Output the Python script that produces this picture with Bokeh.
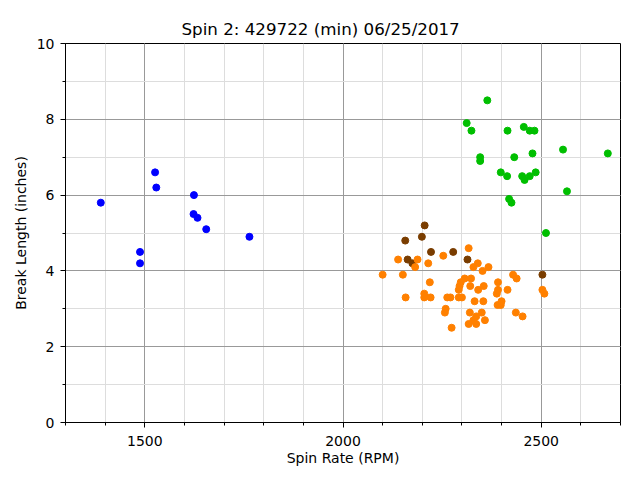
from bokeh.plotting import figure
from bokeh.models import Range1d, SingleIntervalTicker, Title
from bokeh.embed import file_html
from bokeh.resources import INLINE

title_text = "Spin 2: 429722 (min) 06/25/2017"
x_label = "Spin Rate (RPM)"
y_label = "Break Length (inches)"

blue_x = [1389, 1526, 1529, 1624, 1623, 1633, 1655, 1764, 1488, 1488]
blue_y = [5.8, 6.6, 6.2, 6.0, 5.5, 5.4, 5.1, 4.9, 4.5, 4.2]

brown_x = [2206, 2199, 2157, 2222, 2278, 2163, 2175, 2314, 2503]
brown_y = [5.2, 4.9, 4.8, 4.5, 4.5, 4.3, 4.2, 4.3, 3.9]

green_x = [2364, 2312, 2324, 2415, 2456, 2471, 2483, 2555, 2668, 2478, 2346, 2346,
           2432, 2398, 2414, 2452, 2458, 2471, 2486, 2565, 2419, 2425, 2512]
green_y = [8.5, 7.9, 7.7, 7.7, 7.8, 7.7, 7.7, 7.2, 7.1, 7.1, 7.0, 6.9,
           7.0, 6.6, 6.5, 6.5, 6.4, 6.5, 6.6, 6.1, 5.9, 5.8, 5.0]

orange_x = [2100, 2151, 2139, 2188, 2182, 2215, 2253, 2317, 2340, 2329, 2367, 2352,
            2429, 2438, 2307, 2323, 2219, 2297, 2294, 2292, 2321, 2355, 2391, 2391,
            2388, 2415, 2341, 2503, 2508, 2205, 2205, 2221, 2158, 2263, 2271, 2292,
            2300, 2332, 2354, 2400, 2398, 2390, 2259, 2257, 2320, 2350, 2436, 2453,
            2336, 2329, 2358, 2317, 2336, 2274]
orange_y = [3.9, 3.9, 4.3, 4.3, 4.1, 4.2, 4.4, 4.6, 4.2, 4.1, 4.1, 4.0,
            3.9, 3.8, 3.8, 3.8, 3.7, 3.7, 3.6, 3.5, 3.6, 3.6, 3.7, 3.5,
            3.4, 3.5, 3.5, 3.5, 3.4, 3.4, 3.3, 3.3, 3.3, 3.3, 3.3, 3.3,
            3.3, 3.2, 3.2, 3.2, 3.1, 3.1, 3.0, 2.9, 2.9, 2.9, 2.9, 2.8,
            2.8, 2.7, 2.7, 2.6, 2.6, 2.5]

FONT = "DejaVu Sans"

p = figure(width=640, height=480, output_backend="svg", toolbar_location=None,
           x_range=Range1d(1300, 2700), y_range=Range1d(0, 10),
           min_border_left=65, min_border_right=20, min_border_top=43, min_border_bottom=58)
p.title = None
t = Title(text=title_text, align="left", text_font=FONT, text_font_size="16.7px",
          text_font_style="normal", text_color="black", offset=116, standoff=10)
p.add_layout(t, "above")

p.outline_line_color = "black"
p.outline_line_width = 1
p.outline_line_alpha = 1

p.xaxis.ticker = SingleIntervalTicker(interval=500, num_minor_ticks=5)
p.yaxis.ticker = SingleIntervalTicker(interval=2, num_minor_ticks=2)

for ax in (p.xaxis, p.yaxis):
    ax.axis_line_color = "black"
    ax.major_tick_line_color = "black"
    ax.minor_tick_line_color = "black"
    ax.major_tick_out = 5
    ax.major_tick_in = 0
    ax.minor_tick_out = 3
    ax.minor_tick_in = 0
    ax.major_label_text_font = FONT
    ax.major_label_text_font_size = "14px"
    ax.major_label_text_color = "black"
    ax.axis_label_text_font = FONT
    ax.axis_label_text_font_size = "14px"
    ax.axis_label_text_font_style = "normal"
    ax.axis_label_text_color = "black"

p.xaxis.major_label_standoff = 8
p.yaxis.major_label_standoff = 6
p.xaxis.axis_label = x_label
p.yaxis.axis_label = y_label
p.xaxis.axis_label_standoff = 1
p.yaxis.axis_label_standoff = 5

for g in (p.xgrid, p.ygrid):
    g.grid_line_color = "#999999"
    g.grid_line_width = 1
    g.minor_grid_line_color = "#dddddd"
    g.minor_grid_line_width = 1

p.scatter(blue_x, blue_y, size=7, color="#0000ff")
p.scatter(brown_x, brown_y, size=7, color="#7a3d00")
p.scatter(orange_x, orange_y, size=7, color="#ff8000")
p.scatter(green_x, green_y, size=7, color="#00bf00")

open("out.html", "w").write(file_html(p, INLINE))
